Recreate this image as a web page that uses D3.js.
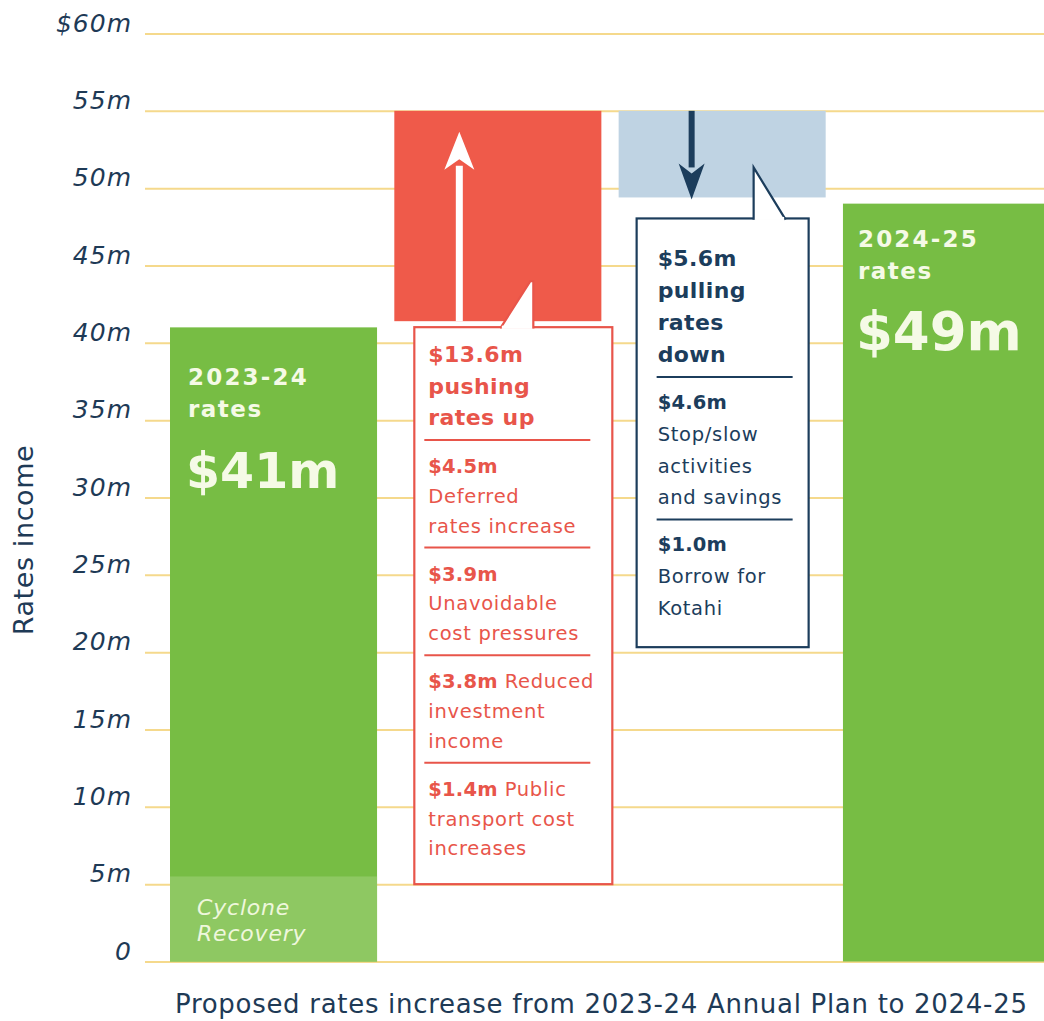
<!DOCTYPE html>
<html>
<head>
<meta charset="utf-8">
<script src="https://cdn.jsdelivr.net/npm/d3@7"></script>
<style>
  html, body { margin: 0; padding: 0; background: #ffffff; }
  svg { display: block; }
  text { font-family: "DejaVu Sans", "Open Sans", sans-serif; }
</style>
</head>
<body>
<svg id="chart" width="1044" height="1021"></svg>
<script>
// ---- Data ($ millions) ----
const categories = ["2023-24 rates", "Pushing rates up", "Pulling rates down", "2024-25 rates"];
const startRates = 41;          // 2023-24 rates
const cycloneRecovery = 5.5;    // portion of 2023-24 rates
const increaseTotal = 13.6;     // pushing rates up
const decreaseTotal = 5.6;      // pulling rates down
const endRates = 49;            // 2024-25 rates
const changeCeiling = 55;       // level the change blocks hang from

const yTicks = [0, 5, 10, 15, 20, 25, 30, 35, 40, 45, 50, 55, 60];
const yTickLabels = ["0", "5m", "10m", "15m", "20m", "25m", "30m", "35m", "40m", "45m", "50m", "55m", "$60m"];

const increaseHeading = ["$13.6m", "pushing", "rates up"];
const increaseItems = [
  { amount: "$4.5m", inline: "", lines: ["Deferred", "rates increase"] },
  { amount: "$3.9m", inline: "", lines: ["Unavoidable", "cost pressures"] },
  { amount: "$3.8m", inline: "Reduced", lines: ["investment", "income"] },
  { amount: "$1.4m", inline: "Public", lines: ["transport cost", "increases"] }
];
const decreaseHeading = ["$5.6m", "pulling", "rates", "down"];
const decreaseItems = [
  { amount: "$4.6m", inline: "", lines: ["Stop/slow", "activities", "and savings"] },
  { amount: "$1.0m", inline: "", lines: ["Borrow for", "Kotahi"] }
];

const barTitles = [["2023-24", "rates"], ["2024-25", "rates"]];
const barValueLabels = ["$41m", "$49m"];
const cycloneLabel = ["Cyclone", "Recovery"];
const yAxisTitle = "Rates income";
const xAxisTitle = "Proposed rates increase from 2023-24 Annual Plan to 2024-25";

// ---- Colours ----
const GREEN = "#77bd44";
const GREEN_LIGHT = "#8ec862";
const RED = "#ef5a4a";
const RED_TEXT = "#e8554a";
const BLUE_BOX = "#bfd3e3";
const NAVY = "#1c3d5c";
const GRID = "#f5d98c";
const INK = "#1e3a56";

const svg = d3.select("#chart");
const W = 1044;

// ---- Scales ----
const y = d3.scaleLinear().domain([0, 60]).range([961.5, 33.5]);
const x = d3.scaleBand().domain(categories).range([170, 1050]).paddingInner(0.077).paddingOuter(0);
const bw = x.bandwidth();

// ---- Gridlines ----
const grid = svg.append("g").attr("transform", "translate(145,0)")
  .call(d3.axisRight(y).tickValues(yTicks).tickSize(W - 145).tickFormat(""));
grid.select(".domain").remove();
grid.selectAll(".tick line").attr("stroke", GRID).attr("stroke-width", 2);

// ---- Y axis labels ----
const yAxis = svg.append("g").attr("transform", "translate(132,0)")
  .call(d3.axisLeft(y).tickValues(yTicks).tickSize(0).tickPadding(0)
    .tickFormat((d, i) => yTickLabels[i]));
yAxis.select(".domain").remove();
yAxis.selectAll(".tick text")
  .attr("dy", "-0.1em")
  .attr("fill", INK)
  .style("font-family", "'DejaVu Sans', sans-serif")
  .style("font-style", "oblique")
  .style("font-size", "25px")
  .style("letter-spacing", "1px");

svg.append("text")
  .attr("transform", `translate(33,${540}) rotate(-90)`)
  .attr("text-anchor", "middle")
  .attr("fill", INK)
  .style("font-size", "27px")
  .style("letter-spacing", "0.6px")
  .text(yAxisTitle);

svg.append("text")
  .attr("x", 175).attr("y", 1013)
  .attr("fill", INK)
  .style("font-size", "26px")
  .style("letter-spacing", "0.7px")
  .text(xAxisTitle);

// ---- Bars ----
const xs = categories.map(c => x(c));

// 2023-24 rates
svg.append("rect").attr("x", xs[0]).attr("width", bw)
  .attr("y", y(startRates)).attr("height", y(0) - y(startRates)).attr("fill", GREEN);
svg.append("rect").attr("x", xs[0]).attr("width", bw)
  .attr("y", y(cycloneRecovery)).attr("height", y(0) - y(cycloneRecovery)).attr("fill", GREEN_LIGHT);

// Increase block
const incTop = changeCeiling, incBottom = changeCeiling - increaseTotal;
svg.append("rect").attr("x", xs[1]).attr("width", bw)
  .attr("y", y(incTop)).attr("height", y(incBottom) - y(incTop)).attr("fill", RED);

// Decrease block
const decTop = changeCeiling, decBottom = changeCeiling - decreaseTotal;
svg.append("rect").attr("x", xs[2]).attr("width", bw)
  .attr("y", y(decTop)).attr("height", y(decBottom) - y(decTop)).attr("fill", BLUE_BOX);

// 2024-25 rates
svg.append("rect").attr("x", xs[3]).attr("width", bw)
  .attr("y", y(endRates)).attr("height", y(0) - y(endRates)).attr("fill", GREEN);

// ---- Arrows ----
function arrow(g, ax, yFrom, yTo, color, shaft, headW, headL) {
  const dir = yTo < yFrom ? -1 : 1;
  const headBase = yTo - dir * headL;
  g.append("line").attr("x1", ax).attr("x2", ax)
    .attr("y1", yFrom).attr("y2", headBase + dir * 4)
    .attr("stroke", color).attr("stroke-width", shaft);
  g.append("path")
    .attr("d", `M${ax},${yTo} L${ax + headW / 2},${headBase} L${ax},${headBase + dir * headL * 0.28} L${ax - headW / 2},${headBase} Z`)
    .attr("fill", color);
}
const arrows = svg.append("g");
arrow(arrows, xs[1] + 65, y(incBottom), y(incTop) + 21, "#ffffff", 7, 30, 38);
arrow(arrows, xs[2] + 73, y(decTop), y(decBottom) + 2, NAVY, 6, 26, 36);

// ---- Callouts ----
function callout(box, tip, stroke) {
  const g = svg.append("g");
  g.append("rect").attr("x", box.x0).attr("y", box.y0)
    .attr("width", box.x1 - box.x0).attr("height", box.y1 - box.y0)
    .attr("fill", "#ffffff").attr("stroke", stroke).attr("stroke-width", 2.2);
  g.append("path")
    .attr("d", `M${tip.a},${box.y0 + 1.2} L${tip.tx0},${tip.ty} L${tip.tx1},${tip.ty} L${tip.b},${box.y0 + 1.2}`)
    .attr("fill", "#ffffff").attr("stroke", stroke).attr("stroke-width", 2.2)
    .attr("stroke-linejoin", "miter");
  // hide the box edge beneath the pointer
  g.append("line").attr("x1", tip.a + 1.5).attr("x2", tip.b - 1.5)
    .attr("y1", box.y0).attr("y2", box.y0)
    .attr("stroke", "#ffffff").attr("stroke-width", 3);
  return g;
}

function calloutText(g, tx, firstBase, heading, items, color, o) {
  let yb = firstBase;
  heading.forEach((t, i) => {
    g.append("text").attr("x", tx).attr("y", yb).attr("fill", color)
      .style("font-size", o.headSize + "px").style("font-weight", 700)
      .style("letter-spacing", "0.4px")
      .text(t);
    if (i < heading.length - 1) yb += o.headLH;
  });
  items.forEach(it => {
    const sepY = yb + o.sepGap;
    g.append("line").attr("x1", o.sepX0).attr("x2", o.sepX1)
      .attr("y1", sepY).attr("y2", sepY)
      .attr("stroke", color).attr("stroke-width", 2);
    yb = sepY + o.afterSep;
    const first = g.append("text").attr("x", tx).attr("y", yb).attr("fill", color)
      .style("font-size", o.bodySize + "px").style("letter-spacing", "0.7px");
    first.append("tspan").style("font-weight", 700).style("letter-spacing", "0.2px").text(it.amount);
    if (it.inline) first.append("tspan").text(" " + it.inline);
    it.lines.forEach(t => {
      yb += o.bodyLH;
      g.append("text").attr("x", tx).attr("y", yb).attr("fill", color)
        .style("font-size", o.bodySize + "px").style("letter-spacing", "0.7px").text(t);
    });
  });
}

// Increase callout
const incBox = { x0: xs[1] + 20, x1: xs[1] + 218, y0: y(incBottom) + 6, y1: y(5) };
const incG = callout(incBox, { a: xs[1] + 106, tx0: xs[1] + 136, tx1: xs[1] + 139, ty: y(incBottom) - 40, b: xs[1] + 139 }, RED_TEXT);
calloutText(incG, incBox.x0 + 14, 362, increaseHeading, increaseItems, RED_TEXT,
  { headSize: 22, headLH: 31.5, bodySize: 19.5, bodyLH: 29.8, sepGap: 15, afterSep: 33,
    sepX0: incBox.x0 + 10, sepX1: incBox.x1 - 22 });

// Decrease callout
const decBox = { x0: xs[2] + 18, x1: xs[2] + 190, y0: y(decBottom) + 21, y1: y(20) - 5 };
const decG = callout(decBox, { a: xs[2] + 135, tx0: xs[2] + 135, tx1: xs[2] + 135, ty: y(decBottom) - 30, b: xs[2] + 167 }, NAVY);
calloutText(decG, decBox.x0 + 21, 266, decreaseHeading, decreaseItems, NAVY,
  { headSize: 22, headLH: 32, bodySize: 19.5, bodyLH: 31.8, sepGap: 15, afterSep: 32,
    sepX0: decBox.x0 + 20, sepX1: decBox.x1 - 16 });

// ---- Bar labels ----
const LABEL = "#f5fae6";
function barLabel(i, bx, topPad, bigSize) {
  const top = y(i === 0 ? startRates : endRates);
  const g = svg.append("g").attr("fill", LABEL);
  g.append("text").attr("x", bx).attr("y", top + topPad)
    .style("font-size", "23px").style("font-weight", 700).style("letter-spacing", "2.2px")
    .text(barTitles[i][0]);
  g.append("text").attr("x", bx).attr("y", top + topPad + 32)
    .style("font-size", "23px").style("font-weight", 700).style("letter-spacing", "1.5px")
    .text(barTitles[i][1]);
  g.append("text").attr("x", bx - 2).attr("y", top + topPad + 103)
    .style("font-size", bigSize + "px").style("font-weight", 700)
    .text(barValueLabels[i]);
}
barLabel(0, xs[0] + 18, 58, 49);
barLabel(1, xs[3] + 15, 43, 53);

const cyc = svg.append("g").attr("fill", "#eef7dc")
  .style("font-size", "22px").style("font-style", "oblique").style("letter-spacing", "0.8px");
cycloneLabel.forEach((t, i) => {
  cyc.append("text").attr("x", xs[0] + 27).attr("y", 915 + i * 26).text(t);
});
</script>
</body>
</html>
